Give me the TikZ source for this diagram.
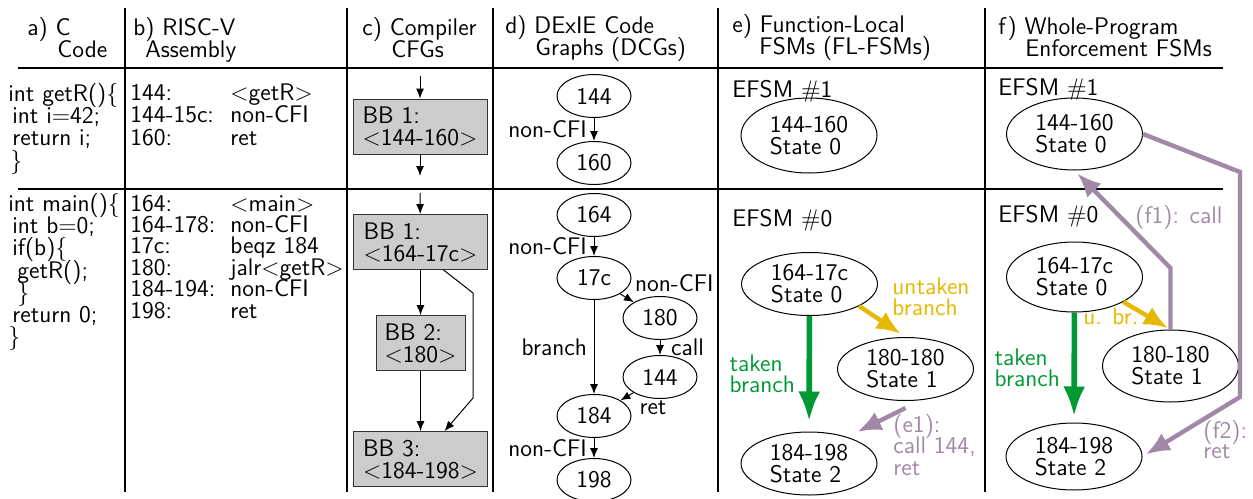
\documentclass[tikz,border=0pt]{standalone}
\usepackage{fontspec}
\usetikzlibrary{arrows.meta,shapes.geometric}

\definecolor{takengreen}{RGB}{0,153,51}
\definecolor{untakenyellow}{RGB}{230,184,0}
\definecolor{callpurple}{RGB}{161,136,167}

% left aligned lines on a fixed baseline pitch, baseline of the first line
\newcommand{\colstack}[2][11pt]{\vtop{\baselineskip=#1\lineskiplimit=-\maxdimen
  \let\\\cr\halign{##\hfil\cr#2\crcr}}}

\tikzset{
  every node/.style={font=\sffamily\fontsize{12}{11}\selectfont},
  txtblk/.style={anchor=base west, inner sep=0pt},
  bbox/.style={rectangle, draw=black!80, fill=black!20, minimum width=67pt, minimum height=27.5pt, inner sep=0pt},
  dcgnode/.style={ellipse, draw, line width=0.5pt, minimum width=37pt, minimum height=21.5pt, inner sep=0pt},
  fsmstate/.style={ellipse, draw, line width=0.5pt, minimum width=68pt, minimum height=31.5pt, inner sep=0pt},
  flow/.style={line width=0.5pt, -{Latex[length=5pt,width=4pt]}},
  taken/.style={draw=takengreen, line width=2.8pt, -{Latex[length=15pt,width=11pt]}, shorten >=5pt},
  untaken/.style={draw=untakenyellow, line width=2.2pt, -{Latex[length=12pt,width=10pt]}, shorten >=3pt},
  callret/.style={draw=callpurple, line width=2.2pt, -{Latex[length=12pt,width=10pt]}, shorten >=2pt},
}

\begin{document}
\begin{tikzpicture}[x=0.5pt, y=-0.5pt]
    \useasboundingbox (0,0) rectangle (1253,498);

    % table frame
    \draw[line width=0.7pt] (18,68) -- (1223,68);
    \draw[line width=0.7pt] (18,189) -- (1223,189);
    \foreach \x in {125,347,493,718,985}
        \draw[line width=0.7pt] (\x,8) -- (\x,492);

    % column heads
    \node[txtblk] (headA) at (27,35.5) {\colstack{a) C\\\hspace*{15pt}Code}};
    \node[txtblk] (headB) at (133,35.5) {\colstack{b) RISC-V\\\hspace*{6pt}Assembly}};
    \node[txtblk] (headC) at (362,35.5) {\colstack{c) Compiler\\\hspace*{14.5pt}CFGs}};
    \node[txtblk] (headD) at (505,33.5) {\colstack{d) DExIE Code\\\hspace*{15pt}Graphs (DCGs)}};
    \node[txtblk] (headE) at (732,32.5) {\colstack{e) Function-Local\\\hspace*{13.5pt}FSMs (FL-FSMs)}};
    \node[txtblk] (headF) at (998,34.5) {\colstack{f) Whole-Program\\\hspace*{13.5pt}Enforcement FSMs}};

    % a) C code
    \node[txtblk] (codeR) at (8,101) {\colstack[11.2pt]{int getR()$\{$\\\hspace*{2pt}int i$=$42;\\\hspace*{2pt}return i;\\\hspace*{1pt}$\}$}};
    \node[txtblk] (codeM) at (8,211.5) {\colstack[11.1pt]{int main()$\{$\\\hspace*{2pt}int b$=$0;\\\hspace*{2pt}if(b)$\{$\\\hspace*{4.5pt}getR();\\\hspace*{4.5pt}$\}$\\\hspace*{2pt}return 0;\\$\}$}};

    % b) assembly
    \node[txtblk] (asmR) at (130,100.5) {\colstack[11.2pt]{%
        \makebox[50pt][l]{144:}$<$getR$>$\\
        \makebox[50pt][l]{144-15c:}non-CFI\\
        \makebox[50pt][l]{160:}ret}};
    \node[txtblk] (asmM) at (130,211) {\colstack[10.7pt]{%
        \makebox[50pt][l]{164:}$<$main$>$\\
        \makebox[50pt][l]{164-178:}non-CFI\\
        \makebox[50pt][l]{17c:}beqz 184\\
        \makebox[50pt][l]{180:}jalr$<$getR$>$\\
        \makebox[50pt][l]{184-194:}non-CFI\\
        \makebox[50pt][l]{198:}ret}};

    % c) compiler CFGs
    \coordinate (cinA) at (420,76);
    \node[bbox] (bbA) at (420,126.5) {\colstack{BB 1:\\$<$144-160$>$}};
    \coordinate (coutA) at (420,176);
    \draw[flow] (cinA) -- (bbA);
    \draw[flow] (bbA) -- (coutA);

    \coordinate (cinB) at (420,193);
    \node[bbox] (bb1) at (420.5,242) {\colstack{BB 1:\\$<$164-17c$>$}};
    \node[bbox, minimum width=44.5pt] (bb2) at (420.5,343) {\colstack{BB 2:\\$<$180$>$}};
    \node[bbox] (bb3) at (420.5,459) {\colstack{BB 3:\\$<$184-198$>$}};
    \draw[flow] (cinB) -- (bb1);
    \draw[flow] (bb1) -- (bb2);
    \draw[flow] (bb2) -- (bb3);
    \draw[flow] ([xshift=11.5pt]bb1.south) -- (473,293) -- (473,398) -- ([xshift=12pt]bb3.north);

    % d) DCGs
    \node[dcgnode] (dA144) at (594,96) {144};
    \node[dcgnode] (dA160) at (594,163) {160};
    \draw[flow] (dA144) -- node[left] (ncfA) {non-CFI} (dA160);

    \node[dcgnode] (d164) at (594,215) {164};
    \node[dcgnode] (d17c) at (594,278) {17c};
    \node[dcgnode] (d180) at (660,318) {180};
    \node[dcgnode] (d144) at (660,377) {144};
    \node[dcgnode] (d184) at (594,416) {184};
    \node[dcgnode] (d198) at (594,480) {198};
    \draw[flow] (d164) -- node[left] (ncfB) {non-CFI} (d17c);
    \draw[flow] (d17c) -- node[at end, anchor=south west, xshift=-3pt, yshift=1.5pt] (ncfC) {non-CFI} (d180);
    \draw[flow] (d180) -- node[right, xshift=2pt] (lcall) {call} (d144);
    \draw[flow] (d144) -- node[anchor=north west, inner sep=0pt, xshift=6pt, yshift=-2pt] (lret) {ret} (d184);
    \draw[flow] (d17c) -- node[left] (lbranch) {branch} (d184);
    \draw[flow] (d184) -- node[left] (ncfD) {non-CFI} (d198);

    % e) function-local FSMs
    \node[txtblk] (eHead1) at (732,97) {EFSM $\#$1};
    \node[fsmstate, minimum height=37.5pt] (eS144) at (809,135.5) {\colstack{144-160\\State 0}};
    \node[txtblk] (eHead0) at (732,226) {EFSM $\#$0};
    \node[fsmstate] (eS164) at (809.5,284) {\colstack{164-17c\\State 0}};
    \node[fsmstate] (eS180) at (905.5,369) {\colstack{180-180\\State 1}};
    \node[fsmstate] (eS184) at (809,463.5) {\colstack{184-198\\State 2}};

    \draw[taken] (eS164) -- node[left, xshift=-2.5pt, text=takengreen] (eTk) {\colstack[10.5pt]{taken\\branch}} (eS184);
    \draw[untaken] (eS164.-24) -- (eS180.north);
    \node[txtblk, text=untakenyellow] (eUn) at (892,294.5) {\colstack[10.3pt]{untaken\\branch}};
    \draw[callret, shorten >=0pt] ([yshift=-3.5pt]eS180.south) -- ([yshift=4.5pt]eS184.north east);
    \node[txtblk, text=callpurple] (eCall) at (893,432) {\colstack[10.8pt]{(e1):\\call 144,\\ret}};

    % f) whole-program enforcement FSMs
    \node[txtblk] (fHead1) at (998,95) {EFSM $\#$1};
    \node[fsmstate, minimum height=36pt] (fS144) at (1074.5,134) {\colstack{144-160\\State 0}};
    \node[txtblk] (fHead0) at (998,222) {EFSM $\#$0};
    \node[fsmstate, minimum height=35pt] (fS164) at (1074.5,277) {\colstack{164-17c\\State 0}};
    \node[fsmstate, minimum height=36pt] (fS180) at (1170.5,366) {\colstack{180-180\\State 1}};
    \node[fsmstate, minimum height=33.5pt] (fS184) at (1074,456.5) {\colstack{184-198\\State 2}};

    \draw[taken, shorten >=3pt] (fS164) -- node[left, xshift=-2.5pt, text=takengreen] (fTk) {\colstack[10.5pt]{taken\\branch}} (fS184);
    \draw[untaken, shorten >=1.5pt] (fS164.-27) -- (fS180.north);
    \node[txtblk, text=untakenyellow] (fUn) at (1083,324) {u. br.};
    \draw[callret] (fS180.north) -- (fS180.north |- 0,268) -- (fS144.south);
    \node[txtblk, text=callpurple] (fCall) at (1135,223) {(f1): call};
    \draw[callret] (fS144.east) -- (1240,172) -- (1240,397) -- (fS184.east);
    \node[txtblk, text=callpurple] (fRet) at (1203,438) {\colstack[10.3pt]{(f2):\\ret}};

\end{tikzpicture}
\end{document}
